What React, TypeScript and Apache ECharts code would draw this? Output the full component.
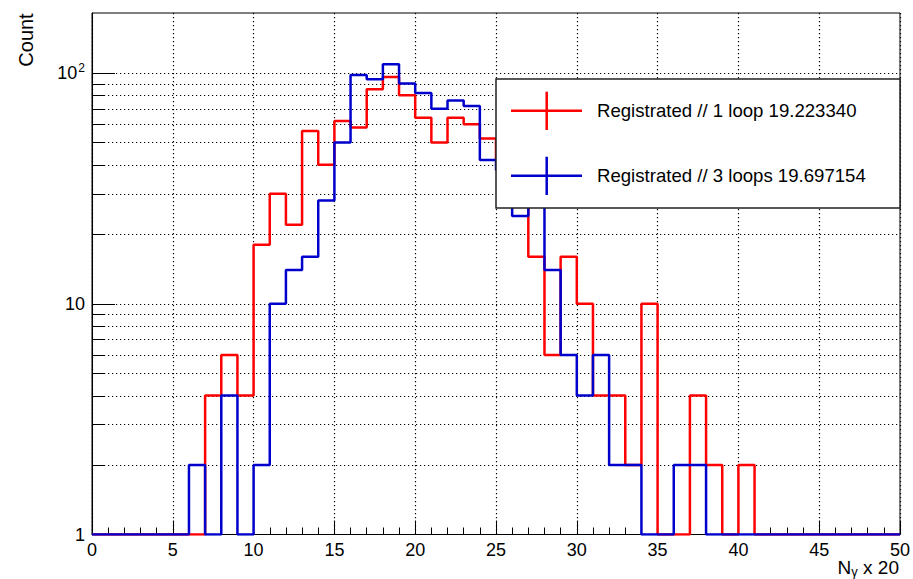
import React, { useEffect, useRef } from "react";
import * as echarts from "echarts";

// Bin lower edges 0..49 (bin width 1), x axis 0..50
const binEdges: number[] = Array.from({ length: 51 }, (_, i) => i);

const seriesNames = ["Registrated // 1 loop 19.223340", "Registrated // 3 loops 19.697154"];

// counts per bin (1 = drawn on the log floor)
const redCounts: number[] = [
  1, 1, 1, 1, 1, 1, 1, 4, 6, 4,
  18, 30, 22, 56, 40, 62, 58, 85, 96, 80,
  64, 50, 64, 60, 52, 42, 30, 16, 6, 16,
  10, 4, 4, 2, 10, 1, 1, 4, 2, 1,
  2, 1, 1, 1, 1, 1, 1, 1, 1, 1,
];
const blueCounts: number[] = [
  1, 1, 1, 1, 1, 1, 2, 1, 4, 1,
  2, 10, 14, 16, 28, 50, 98, 94, 109, 90,
  82, 70, 76, 72, 42, 38, 24, 30, 14, 6,
  4, 6, 2, 2, 1, 1, 2, 2, 1, 1,
  1, 1, 1, 1, 1, 1, 1, 1, 1, 1,
];

const xTickLabels = ["0", "5", "10", "15", "20", "25", "30", "35", "40", "45", "50"];
const yGridMinor: number[] = [2, 3, 4, 5, 6, 7, 8, 9, 20, 30, 40, 50, 60, 70, 80, 90];
const yGridMajor: number[] = [10, 100];

const FONT = "'Liberation Sans', Arial, Helvetica, sans-serif";
const RED = "#ff0000";
const BLUE = "#0000cc";

function stepData(counts: number[]): number[][] {
  const d = counts.map((v, i) => [binEdges[i], v]);
  d.push([binEdges[counts.length], counts[counts.length - 1]]);
  return d;
}

export default function App() {
  const ref = useRef<HTMLDivElement>(null);
  useEffect(() => {
    if (!ref.current) return;
    const chart = echarts.init(ref.current, null, { renderer: "svg" });
    const gridData = [
      ...yGridMinor.map((v) => [0, v, 0]),
      ...yGridMajor.map((v) => [0, v, 1]),
    ];
    const LZ = 100;
    const option: any = {
      animation: false,
      backgroundColor: "#fff",
      textStyle: { fontFamily: FONT },
      grid: {
        left: 92,
        right: 13,
        top: 13,
        bottom: 44.5,
        show: true,
        borderColor: "#000",
        borderWidth: 1,
        backgroundColor: "transparent",
      },
      xAxis: {
        type: "value",
        min: 0,
        max: 50,
        interval: 5,
        axisLine: { show: true, lineStyle: { color: "#000", width: 1 } },
        axisTick: { show: true, inside: true, length: 14, lineStyle: { color: "#000", width: 1 } },
        minorTick: { show: true, splitNumber: 5, length: 7, lineStyle: { color: "#000", width: 1 } },
        splitLine: { show: true, lineStyle: { color: "#000", width: 1.2, type: [1.2, 2.8] } },
        axisLabel: {
          color: "#000",
          fontSize: 18,
          fontFamily: FONT,
          margin: 6,
          formatter: (v: number) => xTickLabels[Math.round(v / 5)] ?? "",
        },
      },
      yAxis: {
        type: "log",
        logBase: 10,
        min: 1,
        max: 182,
        axisLine: { show: true, lineStyle: { color: "#000", width: 1 } },
        axisTick: { show: false },
        splitLine: { show: false },
        axisLabel: {
          color: "#000",
          margin: 7,
          showMaxLabel: false,
          formatter: (v: number) => {
            if (Math.abs(v - 100) < 1e-6) return "{b|10}{s|2}";
            if (Math.abs(v - 10) < 1e-6) return "{b|10}";
            if (Math.abs(v - 1) < 1e-6) return "{b|1}";
            return "";
          },
          rich: {
            b: { fontSize: 18, fontFamily: FONT, color: "#000" },
            s: { fontSize: 12, fontFamily: FONT, color: "#000", verticalAlign: "bottom", padding: [0, 0, 10, 1] },
          },
        },
      },
      series: [
        {
          type: "custom",
          name: "grid",
          z: 1,
          silent: true,
          encode: { x: 0, y: 1 },
          data: gridData,
          renderItem: (params: any, api: any) => {
            const v = api.value(1);
            const major = api.value(2) === 1;
            const p0 = api.coord([0, v]);
            const p1 = api.coord([50, v]);
            const y = Math.round(p0[1]) + 0.5;
            return {
              type: "group",
              children: [
                {
                  type: "line",
                  shape: { x1: p0[0], y1: y, x2: p1[0], y2: y },
                  style: { stroke: "#000", lineWidth: 1.2, lineDash: [1.2, 2.8] },
                },
                {
                  type: "line",
                  shape: { x1: p0[0], y1: y, x2: p0[0] + (major ? 23 : 12), y2: y },
                  style: { stroke: "#000", lineWidth: 1 },
                },
              ],
            };
          },
        },
        {
          type: "line",
          name: seriesNames[0],
          step: "end",
          z: 3,
          showSymbol: false,
          symbol: "none",
          data: stepData(redCounts),
          lineStyle: { color: RED, width: 2.5 },
          itemStyle: { color: RED },
        },
        {
          type: "line",
          name: seriesNames[1],
          step: "end",
          z: 4,
          showSymbol: false,
          symbol: "none",
          data: stepData(blueCounts),
          lineStyle: { color: BLUE, width: 2.5 },
          itemStyle: { color: BLUE },
        },
      ],
      graphic: [
        {
          type: "text",
          x: 26,
          y: 40,
          rotation: Math.PI / 2,
          style: { text: "Count", fontSize: 20, fontFamily: FONT, fill: "#000", align: "center", verticalAlign: "middle" },
        },
        {
          type: "text",
          x: 899,
          y: 567,
          style: {
            text: "{a|N}{g|γ}{a| x 20}",
            align: "right",
            verticalAlign: "middle",
            rich: {
              a: { fontSize: 19, fontFamily: FONT, fill: "#000" },
              g: { fontSize: 13, fontFamily: FONT, fill: "#000", verticalAlign: "top", padding: [9, 0, 0, 0] },
            },
          },
        },
        {
          type: "rect",
          z: LZ,
          shape: { x: 496, y: 79, width: 404, height: 129 },
          style: { fill: "#fff", stroke: "#222", lineWidth: 1.5 },
        },
        {
          type: "line",
          z: LZ + 1,
          shape: { x1: 511, y1: 110.7, x2: 582, y2: 110.7 },
          style: { stroke: RED, lineWidth: 2.5 },
        },
        {
          type: "line",
          z: LZ + 1,
          shape: { x1: 546.7, y1: 91.7, x2: 546.7, y2: 130 },
          style: { stroke: RED, lineWidth: 2.5 },
        },
        {
          type: "text",
          z: LZ + 1,
          x: 597,
          y: 110.7,
          style: { text: seriesNames[0], fontSize: 18.6, fontFamily: FONT, fill: "#000", align: "left", verticalAlign: "middle" },
        },
        {
          type: "line",
          z: LZ + 1,
          shape: { x1: 511, y1: 175.7, x2: 582, y2: 175.7 },
          style: { stroke: BLUE, lineWidth: 2.5 },
        },
        {
          type: "line",
          z: LZ + 1,
          shape: { x1: 546.7, y1: 156.7, x2: 546.7, y2: 195 },
          style: { stroke: BLUE, lineWidth: 2.5 },
        },
        {
          type: "text",
          z: LZ + 1,
          x: 597,
          y: 175.7,
          style: { text: seriesNames[1], fontSize: 18.6, fontFamily: FONT, fill: "#000", align: "left", verticalAlign: "middle" },
        },
      ],
    };
    chart.setOption(option);
    return () => chart.dispose();
  }, []);
  return (
    <div
      ref={ref}
      style={{ position: "fixed", left: 0, top: 0, width: 913, height: 579, background: "#fff" }}
    />
  );
}
